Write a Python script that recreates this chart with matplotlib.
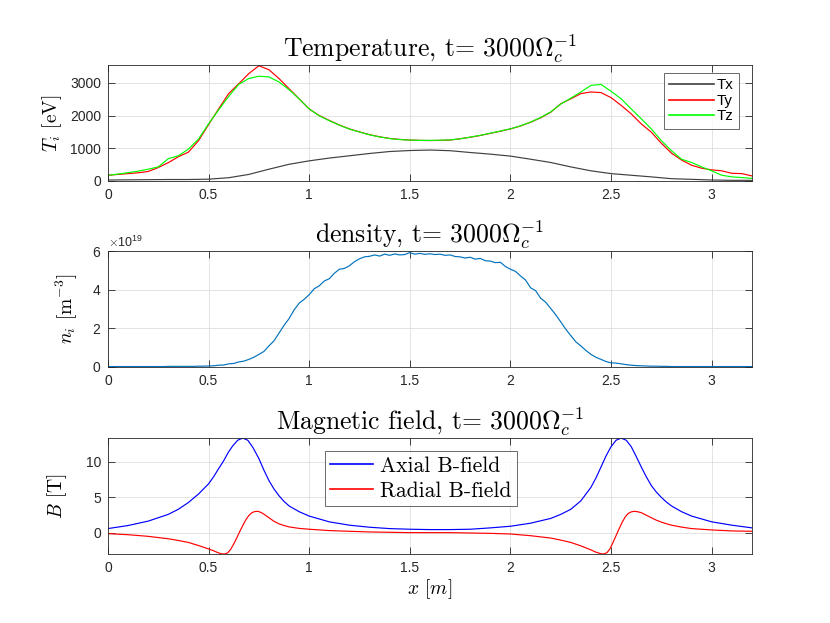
import numpy as np
import matplotlib
matplotlib.use("Agg")
import matplotlib.pyplot as plt
from matplotlib.ticker import FuncFormatter, ScalarFormatter

plt.rcParams['mathtext.fontset'] = 'cm'
plt.rcParams['font.family'] = ['Liberation Sans', 'DejaVu Sans']
plt.rcParams['axes.unicode_minus'] = False

# temperature [eV], x step 0.05 m
T_y = [175, 200, 225, 250, 290, 410, 560, 740, 880, 1230, 1720, 2200, 2670, 2970, 3280, 3520,
       3400, 3130, 2820, 2510, 2200, 2000, 1850, 1710, 1590, 1500, 1415, 1350, 1300, 1270, 1250,
       1240, 1235, 1240, 1250, 1290, 1335, 1390, 1455, 1520, 1590, 1680, 1795, 1930, 2100, 2360,
       2510, 2670, 2720, 2700, 2545, 2310, 2050, 1745, 1490, 1150, 850, 640, 480, 390, 340, 310,
       235, 225, 155]
T_z = [175, 210, 255, 300, 360, 430, 680, 770, 975, 1280, 1745, 2170, 2585, 2950, 3130, 3200,
       3180, 3025, 2790, 2510, 2200, 1990, 1840, 1705, 1585, 1495, 1410, 1345, 1295, 1265, 1250,
       1240, 1240, 1245, 1255, 1290, 1340, 1395, 1460, 1525, 1595, 1685, 1800, 1940, 2110, 2350,
       2530, 2720, 2920, 2950, 2740, 2510, 2200, 1900, 1590, 1230, 925, 665, 565, 430, 310, 175,
       125, 105, 80]
# x step 0.1 m
T_x = [30, 35, 40, 45, 45, 55, 100, 200, 360, 510, 615, 700, 770, 840, 900, 930, 945, 925, 870,
       820, 760, 665, 565, 430, 310, 225, 175, 125, 70, 50, 30, 20, 20]

# density [1e19 m^-3], x step 0.025 m
n_i = [0.02, 0.02, 0.02, 0.02, 0.02, 0.02, 0.02, 0.02, 0.02, 0.02, 0.02, 0.02, 0.03, 0.03, 0.03,
       0.03, 0.03, 0.03, 0.04, 0.04, 0.05, 0.06, 0.09, 0.10,
       0.16, 0.18, 0.26, 0.30, 0.39, 0.50, 0.65, 0.80, 1.09, 1.35, 1.75, 2.15, 2.50, 2.95, 3.30,
       3.50, 3.74, 4.05, 4.20, 4.45, 4.57, 4.85, 5.06, 5.10, 5.24, 5.45, 5.60, 5.70, 5.73, 5.80,
       5.74, 5.84, 5.78, 5.85, 5.80, 5.82, 5.92, 5.84, 5.88, 5.83, 5.86, 5.82, 5.84, 5.78, 5.80,
       5.72, 5.70, 5.64, 5.68, 5.58, 5.62, 5.50, 5.48, 5.40, 5.42, 5.20, 5.06, 4.95, 4.71, 4.50,
       4.10, 3.95, 3.56, 3.35, 3.03, 2.70, 2.33, 1.95, 1.62, 1.30, 1.09, 0.85, 0.65, 0.50, 0.39,
       0.28, 0.21, 0.20, 0.16, 0.12, 0.09, 0.07, 0.06, 0.05, 0.04, 0.04, 0.03, 0.03, 0.02,
       0.02, 0.02, 0.02, 0.02, 0.02, 0.02, 0.02, 0.02, 0.02, 0.02, 0.02, 0.02, 0.02, 0.02, 0.02,
       0.02]

# magnetic field [T]
x_ax = [0, 0.1, 0.2, 0.3, 0.35, 0.4, 0.45, 0.5, 0.525, 0.55, 0.575, 0.6, 0.62, 0.645, 0.67,
        0.695, 0.72, 0.75, 0.775, 0.8, 0.825, 0.85, 0.875, 0.9, 0.95, 1.0, 1.1, 1.2, 1.3, 1.4,
        1.5, 1.6, 1.7, 1.8, 1.9, 2.0, 2.1, 2.2, 2.25, 2.3, 2.35, 2.4, 2.425, 2.45, 2.475, 2.5,
        2.525, 2.55, 2.575, 2.6, 2.625, 2.65, 2.675, 2.7, 2.725, 2.75, 2.775, 2.8, 2.85, 2.9,
        3.0, 3.1, 3.2]
B_ax = [0.57, 1.0, 1.62, 2.57, 3.29, 4.24, 5.43, 6.86, 7.85, 9.0, 10.1, 11.38, 12.2, 13.0, 13.3,
        13.0, 12.0, 10.43, 8.8, 7.33, 6.15, 5.19, 4.4, 3.76, 2.95, 2.33, 1.52, 1.05, 0.76, 0.57,
        0.48, 0.43, 0.43, 0.48, 0.67, 0.9, 1.33, 2.0, 2.57, 3.29, 4.48, 6.38, 7.7, 9.24, 10.8,
        12.1, 13.0, 13.3, 13.0, 12.1, 10.7, 9.24, 7.85, 6.62, 5.7, 4.95, 4.3, 3.76, 2.95, 2.33,
        1.52, 1.05, 0.67]
x_rad = [0, 0.1, 0.2, 0.3, 0.35, 0.4, 0.45, 0.5, 0.525, 0.55, 0.565, 0.58, 0.595, 0.61, 0.625,
         0.64, 0.655, 0.67, 0.685, 0.7, 0.715, 0.73, 0.745, 0.76, 0.775, 0.8, 0.825, 0.85, 0.875,
         0.9, 0.95, 1.0, 1.1, 1.2, 1.3, 1.4, 1.5, 1.6, 1.7, 1.8, 1.9, 2.0, 2.1, 2.2, 2.25, 2.3,
         2.35, 2.4, 2.425, 2.45, 2.465, 2.48, 2.495, 2.51, 2.525, 2.54, 2.555, 2.57, 2.585, 2.6,
         2.615, 2.63, 2.65, 2.675, 2.7, 2.725, 2.75, 2.775, 2.8, 2.85, 2.9, 3.0, 3.1, 3.2]
B_rad = [-0.14, -0.29, -0.52, -0.86, -1.1, -1.38, -1.81, -2.29, -2.55, -2.85, -2.98, -3.0, -2.85,
         -2.35, -1.6, -0.75, 0.15, 1.0, 1.8, 2.4, 2.8, 2.97, 3.0, 2.85, 2.6, 2.1, 1.6, 1.24, 1.0,
         0.81, 0.6, 0.48, 0.29, 0.19, 0.1, 0.05, 0.0, 0.0, 0.0, -0.05, -0.1, -0.19, -0.43, -0.76,
         -1.05, -1.38, -1.86, -2.43, -2.75, -2.97, -3.0, -2.8, -2.25, -1.35, -0.4, 0.55, 1.45, 2.2,
         2.7, 2.92, 3.0, 2.95, 2.81, 2.45, 2.1, 1.75, 1.48, 1.25, 1.05, 0.78, 0.57, 0.38, 0.24,
         0.19]

x_T = np.linspace(0, 3.2, len(T_y))
x_Tx = np.linspace(0, 3.2, len(T_x))
x_n = np.linspace(0, 3.2, len(n_i))

serif = 'cmr10'
gridc = '#dedede'
axc = '#262626'
tsz = 18.5
lw = 0.85


def style(ax):
    ax.set_xlim(0, 3.2)
    ax.set_xticks([0, 0.5, 1, 1.5, 2, 2.5, 3])
    ax.xaxis.set_major_formatter(FuncFormatter(lambda v, p: f'{v:g}'))
    ax.grid(True, color=gridc, lw=0.6)
    ax.set_axisbelow(True)
    ax.tick_params(direction='in', top=True, right=True, length=5, width=0.6,
                   color=axc, labelsize=10, labelcolor=axc, pad=5)
    for s in ax.spines.values():
        s.set_color(axc)
        s.set_linewidth(0.6)


fig = plt.figure(figsize=(8.3, 6.23), dpi=100)

# temperature
ax1 = fig.add_axes([0.13, 0.7095, 0.776, 0.186])
ax1.plot(x_Tx, T_x, color='#404040', lw=lw, label='Tx')
ax1.plot(x_T, T_y, color='red', lw=lw, label='Ty')
ax1.plot(x_T, T_z, color='#00ff00', lw=lw, label='Tz')
style(ax1)
ax1.set_ylim(0, 3540)
ax1.set_yticks([0, 1000, 2000, 3000])
ax1.set_ylabel(r'$T_i$ [eV]', fontfamily=serif, fontsize=14, labelpad=4)
ax1.set_title(r'Temperature, t= 3000$\Omega_c^{-1}$', fontfamily=serif, fontsize=tsz, pad=6)
leg = ax1.legend(loc='upper right', fontsize=10.8, frameon=True, fancybox=False,
                 edgecolor=axc, handlelength=3.0, borderpad=0.35, labelspacing=0.1,
                 handletextpad=0.2, borderaxespad=0, bbox_to_anchor=(0.98, 0.931))
leg.get_frame().set_linewidth(0.6)
for h in leg.get_lines():
    h.set_linewidth(1.2)

# density
ax2 = fig.add_axes([0.13, 0.411, 0.776, 0.186])
ax2.plot(x_n, np.array(n_i) * 1e19, color='#0072bd', lw=lw)
style(ax2)
ax2.set_ylim(0, 6e19)
ax2.set_yticks([0, 2e19, 4e19, 6e19])
fmt = ScalarFormatter(useMathText=True)
fmt.set_powerlimits((0, 0))
ax2.yaxis.set_major_formatter(fmt)
ax2.yaxis.get_offset_text().set_fontsize(9)
ax2.yaxis.get_offset_text().set_color(axc)
ax2.set_ylabel(r'$n_i$ [m$^{-3}$]', fontfamily=serif, fontsize=14, labelpad=8)
ax2.set_title(r'density, t= 3000$\Omega_c^{-1}$', fontfamily=serif, fontsize=tsz, pad=6)

# magnetic field
ax3 = fig.add_axes([0.13, 0.1108, 0.776, 0.186])
ax3.plot(x_ax, B_ax, color='blue', lw=lw, label='Axial B-field')
ax3.plot(x_rad, B_rad, color='red', lw=lw, label='Radial B-field')
style(ax3)
ax3.set_ylim(-3.0, 13.3)
ax3.set_yticks([0, 5, 10])
ax3.set_ylabel(r'$B$ [T]', fontfamily=serif, fontsize=14, labelpad=12)
ax3.set_xlabel(r'$x$ [$m$]', fontfamily=serif, fontsize=14, labelpad=2)
ax3.set_title(r'Magnetic field, t= 3000$\Omega_c^{-1}$', fontfamily=serif, fontsize=tsz, pad=6)
leg3 = ax3.legend(loc='upper left', bbox_to_anchor=(0.337, 0.888),
                  prop={'family': serif, 'size': 15.5}, frameon=True, fancybox=False,
                  edgecolor=axc, handlelength=2.0, handletextpad=0.3, borderpad=0.25,
                  labelspacing=0.25, borderaxespad=0)
leg3.get_frame().set_linewidth(0.6)
for h in leg3.get_lines():
    h.set_linewidth(1.2)

fig.savefig('out.png', dpi=100)
